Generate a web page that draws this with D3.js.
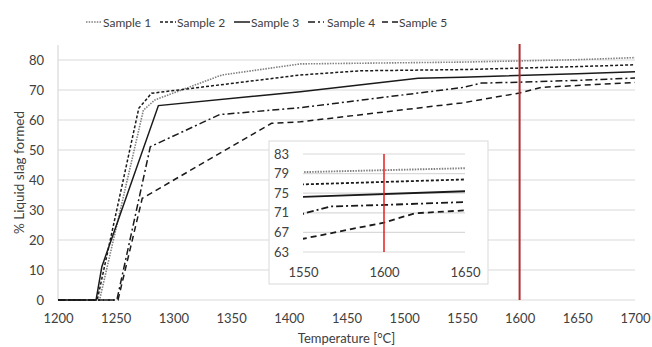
<!DOCTYPE html>
<html>
<head>
<meta charset="utf-8">
<script src="https://cdn.jsdelivr.net/npm/d3@7"></script>
<style>
  body { margin: 0; background: #fff; }
  text { font-family: Lato, "Open Sans", sans-serif; fill: #404040; }
</style>
</head>
<body>
<div id="wrapper"></div>
<script>
// data: [temperature °C, % liquid slag]
const seriesNames = ["Sample 1", "Sample 2", "Sample 3", "Sample 4", "Sample 5"]
const sample1 = [[1200,0],[1236,0],[1274,63.3],[1284,66.7],[1342,75],[1410,78.7],[1550,79.3],[1650,80.1],[1700,80.8]]
const sample2 = [[1200,0],[1234,0],[1270,63.9],[1281,68.9],[1410,75],[1462,76.4],[1550,76.8],[1650,77.8],[1700,78.4]]
const sample3 = [[1200,0],[1233,0],[1238,11.1],[1287,64.8],[1410,69.4],[1512,73.9],[1550,74.25],[1650,75.4],[1700,76.1]]
const sample4 = [[1200,0],[1251,0],[1280,51.1],[1340,61.8],[1410,64.1],[1550,70.8],[1567,72.3],[1600,72.6],[1650,73.2],[1700,74.0]]
const sample5 = [[1200,0],[1252,0],[1273,33.9],[1385,58.9],[1410,59.4],[1550,65.7],[1600,69.0],[1619,70.9],[1650,71.5],[1700,72.5]]
const markerTemp = 1600

const xTicks = [1200,1250,1300,1350,1400,1450,1500,1550,1600,1650,1700]
const yTicks = [0,10,20,30,40,50,60,70,80]
const insetXTicks = [1550,1600,1650]
const insetYTicks = [63,67,71,75,79,83]

const allSeries = [sample1, sample2, sample3, sample4, sample5]
const styles = [
    {stroke: "#808080", dash: "1.5,1.2", width: 1.6},
    {stroke: "#1a1a1a", dash: "3,2", width: 1.5},
    {stroke: "#1a1a1a", dash: null, width: 1.5},
    {stroke: "#1a1a1a", dash: "7,3,2,3", width: 1.5},
    {stroke: "#1a1a1a", dash: "6,4", width: 1.5},
]

const width = 652
const height = 347
const gridColor = "#d9d9d9"

const svg = d3.select("#wrapper")
    .append("svg")
    .attr("width", width)
    .attr("height", height)

// main scales
const xScale = d3.scaleLinear().domain([1200, 1700]).range([58, 635])
const yScale = d3.scaleLinear().domain([0, 85]).range([300, 45])

// gridlines
svg.append("g")
    .selectAll("line")
    .data(yTicks)
    .enter()
    .append("line")
    .attr("x1", xScale(1200))
    .attr("x2", xScale(1700))
    .attr("y1", d => yScale(d))
    .attr("y2", d => yScale(d))
    .attr("stroke", gridColor)
    .attr("stroke-width", 1.2)

// y axis line
svg.append("line")
    .attr("x1", xScale(1200)).attr("x2", xScale(1200))
    .attr("y1", yScale(85)).attr("y2", yScale(0))
    .attr("stroke", gridColor)
    .attr("stroke-width", 1.2)

// axes (labels only)
const xAxis = svg.append("g")
    .attr("transform", `translate(0,${yScale(0)})`)
    .call(d3.axisBottom(xScale).tickValues(xTicks).tickSize(0).tickPadding(14).tickFormat(d3.format("d")))
xAxis.select(".domain").remove()
xAxis.selectAll("text").attr("font-size", "13px").attr("fill", "#404040")

const yAxis = svg.append("g")
    .attr("transform", `translate(${xScale(1200) - 14},0)`)
    .call(d3.axisLeft(yScale).tickValues(yTicks).tickSize(0).tickPadding(0))
yAxis.select(".domain").remove()
yAxis.selectAll("text").attr("font-size", "13px").attr("fill", "#404040")

// axis titles
svg.append("text")
    .attr("x", (xScale(1200) + xScale(1700)) / 2)
    .attr("y", 343)
    .attr("text-anchor", "middle")
    .attr("font-size", "13px")
    .text("Temperature [°C]")

svg.append("text")
    .attr("transform", `translate(24,${(yScale(0) + yScale(85)) / 2})rotate(-90)`)
    .attr("text-anchor", "middle")
    .attr("font-size", "13.5px")
    .text("% Liquid slag formed")

// series
const lineGen = d3.line()
    .x(d => xScale(d[0]))
    .y(d => yScale(d[1]))

svg.append("g")
    .selectAll("path")
    .data(allSeries)
    .enter()
    .append("path")
    .attr("d", lineGen)
    .attr("fill", "none")
    .attr("stroke", (d, i) => styles[i].stroke)
    .attr("stroke-width", (d, i) => styles[i].width)
    .attr("stroke-dasharray", (d, i) => styles[i].dash)

// 1600 marker
svg.append("line")
    .attr("x1", xScale(markerTemp)).attr("x2", xScale(markerTemp))
    .attr("y1", yScale(85) - 1).attr("y2", yScale(0))
    .attr("stroke", "#b0302e")
    .attr("stroke-width", 2)

// legend
const legend = svg.append("g")
    .selectAll("g")
    .data(seriesNames)
    .enter()
    .append("g")
    .attr("transform", (d, i) => `translate(${86 + i * 74},0)`)

legend.append("line")
    .attr("x1", 0).attr("x2", 16)
    .attr("y1", 22).attr("y2", 22)
    .attr("stroke", (d, i) => styles[i].stroke)
    .attr("stroke-width", (d, i) => styles[i].width)
    .attr("stroke-dasharray", (d, i) => styles[i].dash)

legend.append("text")
    .attr("x", (d, i) => i == 3 ? 19 : 17)
    .attr("y", 26.5)
    .attr("font-size", "12px")
    .text(d => d)

// inset
const inset = svg.append("g")

inset.append("rect")
    .attr("x", 269).attr("y", 141)
    .attr("width", 219).attr("height", 143)
    .attr("fill", "#fff")
    .attr("stroke", gridColor)
    .attr("stroke-width", 1)

const xInset = d3.scaleLinear().domain([1550, 1650]).range([303, 465])
const yInset = d3.scaleLinear().domain([63, 83]).range([252, 154])

inset.append("g")
    .selectAll("line")
    .data(insetYTicks)
    .enter()
    .append("line")
    .attr("x1", xInset(1550))
    .attr("x2", xInset(1650))
    .attr("y1", d => yInset(d))
    .attr("y2", d => yInset(d))
    .attr("stroke", gridColor)
    .attr("stroke-width", 1.2)

const ixAxis = inset.append("g")
    .attr("transform", `translate(0,${yInset(63)})`)
    .call(d3.axisBottom(xInset).tickValues(insetXTicks).tickSize(0).tickPadding(16).tickFormat(d3.format("d")))
ixAxis.select(".domain").remove()
ixAxis.selectAll("text").attr("font-size", "13px").attr("fill", "#404040")

const iyAxis = inset.append("g")
    .attr("transform", `translate(${xInset(1550) - 14},0)`)
    .call(d3.axisLeft(yInset).tickValues(insetYTicks).tickSize(0).tickPadding(0))
iyAxis.select(".domain").remove()
iyAxis.selectAll("text").attr("font-size", "13px").attr("fill", "#404040")

svg.append("clipPath")
    .attr("id", "insetClip")
    .append("rect")
    .attr("x", xInset(1550)).attr("y", yInset(83) - 2)
    .attr("width", xInset(1650) - xInset(1550))
    .attr("height", yInset(63) - yInset(83) + 2)

const insetLine = d3.line()
    .x(d => xInset(d[0]))
    .y(d => yInset(d[1]))

inset.append("g")
    .attr("clip-path", "url(#insetClip)")
    .selectAll("path")
    .data(allSeries)
    .enter()
    .append("path")
    .attr("d", insetLine)
    .attr("fill", "none")
    .attr("stroke", (d, i) => styles[i].stroke)
    .attr("stroke-width", (d, i) => styles[i].width + 0.3)
    .attr("stroke-dasharray", (d, i) => styles[i].dash)

inset.append("line")
    .attr("x1", xInset(markerTemp)).attr("x2", xInset(markerTemp))
    .attr("y1", yInset(83)).attr("y2", yInset(63))
    .attr("stroke", "#e02020")
    .attr("stroke-width", 1.5)
</script>
</body>
</html>
